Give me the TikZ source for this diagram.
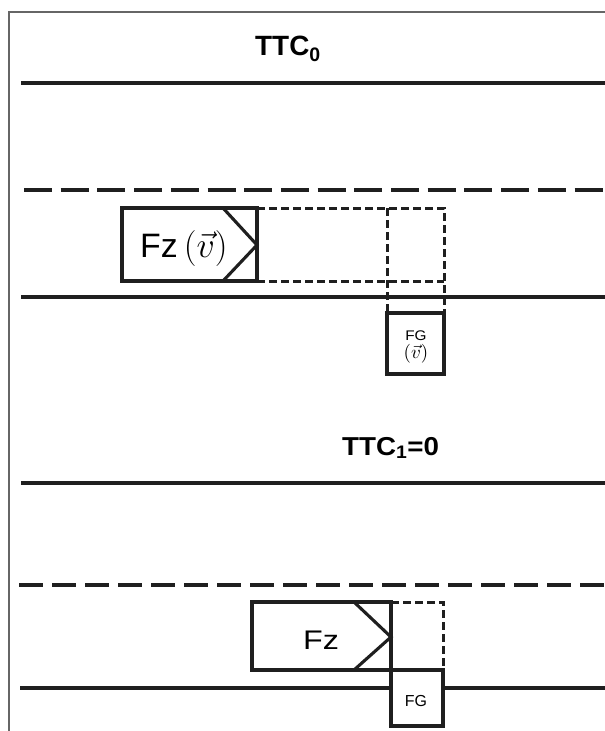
\documentclass[tikz,border=0pt]{standalone}
\usepackage{graphicx}
\usepackage{fontspec}
\setmainfont{Liberation Sans}
\begin{document}
\begin{tikzpicture}[x=1bp,y=-1bp,
  road/.style={line width=3.1bp,black!88},
  laneA/.style={line width=3.1bp,black!88,dash pattern=on 28bp off 8.7bp},
  laneB/.style={line width=3.1bp,black!88,dash pattern=on 24bp off 9bp},
  box/.style={line width=3.1bp,black!88,line join=miter},
  ghost/.style={line width=3bp,black!88,dash pattern=on 8bp off 4bp},
  framestyle/.style={line width=1.6bp,black!60},
  ttc/.style={font=\bfseries, inner sep=0pt, anchor=base west},
  lbl/.style={inner sep=0pt, anchor=base},
]
\useasboundingbox (0,0) rectangle (605,731);
\draw[framestyle] (9,731) -- (9,12) -- (605,12);

% ---- top scene ----
\node[ttc, font=\fontsize{28}{34}\selectfont\bfseries] (ttc0) at (255,56) {TTC\textsubscript{0}};
\draw[road] (21,83) -- (605,83);
\draw[laneA] (24,190) -- (605,190);
\draw[road] (21,297) -- (605,297);
\draw[ghost] (257,208) -- (444,208) -- (444,313);
\draw[ghost] (257,281) -- (444,281);
\draw[ghost] (387,208) -- (387,313);
\draw[box,fill=white] (122,208) rectangle (257,281);
\draw[box] (223,208) -- (257,245) -- (223,281);
\node[lbl, anchor=base west, font=\fontsize{34}{40}\selectfont] (fz0) at (140,257) {Fz\hspace{6bp}{\fontsize{24}{28}\selectfont\scalebox{1.45}{$(\vec{v})$}}};
\draw[box,fill=white] (387,313) rectangle (444,374);
\node[lbl, font=\fontsize{14}{16}\selectfont] (fg0) at (416,340) {\scalebox{1.1}[1]{FG}};
\node[lbl, font=\fontsize{10}{12}\selectfont] (fgv0) at (416,358) {\scalebox{1.9}{$(\vec{v})$}};

% ---- bottom scene ----
\node[ttc, font=\fontsize{26}{30}\selectfont\bfseries] (ttc1) at (342,455) {\scalebox{1.07}[1]{TTC\textsubscript{1}=0}};
\draw[road] (21,483) -- (605,483);
\draw[laneB] (19,585) -- (605,585);
\draw[road] (20,688) -- (605,688);
\draw[ghost] (391,602) -- (443,602) -- (443,670);
\draw[box,fill=white] (252,602) rectangle (391,670);
\draw[box] (354,602) -- (391,637) -- (354,670);
\node[lbl, anchor=base west, font=\fontsize{27}{30}\selectfont] (fz1) at (303,649) {\scalebox{1.2}[1]{Fz}};
\draw[box,fill=white] (391,670) rectangle (443,726);
\node[lbl, font=\fontsize{16}{18}\selectfont] (fg1) at (416,706) {FG};
\end{tikzpicture}
\end{document}
